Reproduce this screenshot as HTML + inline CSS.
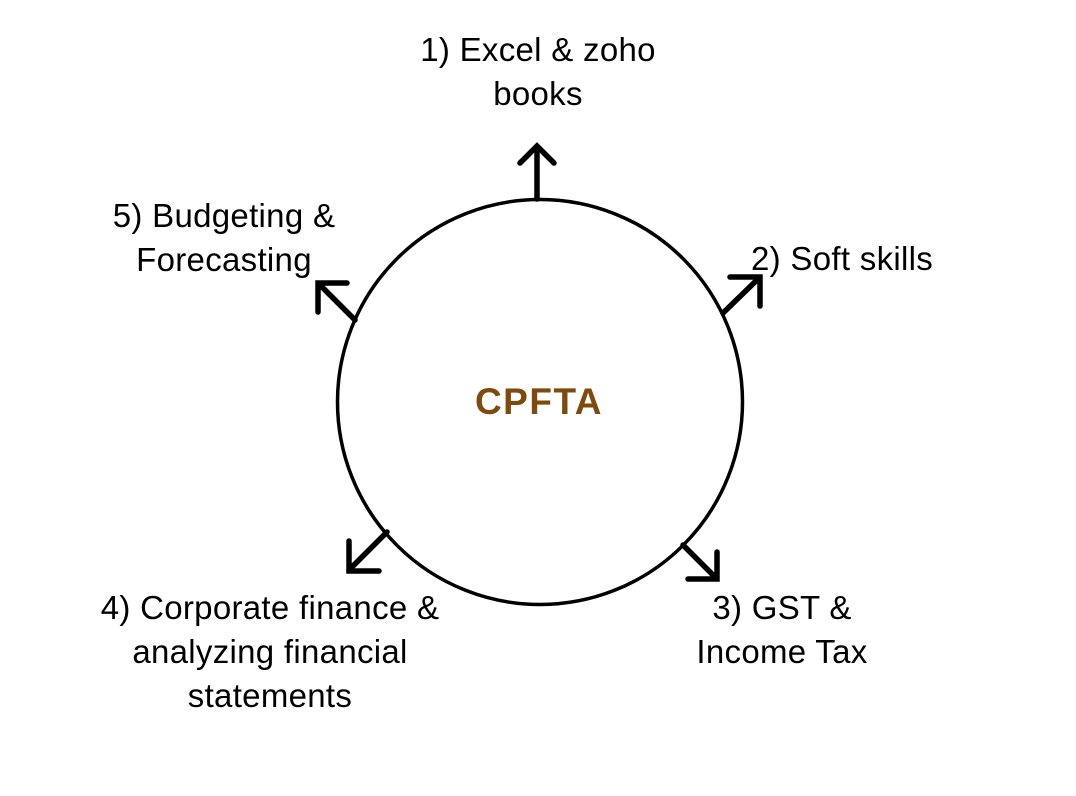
<!DOCTYPE html>
<html><head><style>
html,body{margin:0;padding:0;background:#fff;}
body{width:1076px;height:796px;position:relative;overflow:hidden;font-family:"Liberation Sans",Arial,sans-serif;}
.t{position:absolute;font-size:33px;line-height:44px;color:#000;text-align:center;white-space:nowrap;letter-spacing:0.3px;}
</style></head><body>
<svg width="1076" height="796" style="position:absolute;left:0;top:0">
<circle cx="540" cy="402" r="202.5" fill="#fff" stroke="#000" stroke-width="3.5"/>
<g stroke="#000" stroke-width="5.5" fill="none" stroke-linecap="round" stroke-linejoin="miter">
<line x1="537" y1="199" x2="537" y2="148"/><polyline points="520,163 537,146 554,163"/>
<line x1="723" y1="313" x2="759" y2="278"/><polyline points="730,277 760,277 760,306"/>
<line x1="355" y1="320" x2="319" y2="284"/><polyline points="347,283 318,283 318,312"/>
<line x1="387" y1="532" x2="349" y2="570"/><polyline points="349,541 349,571 379,571"/>
<line x1="683" y1="545" x2="716" y2="578"/><polyline points="717,552 717,579 688,579"/>
</g>
<text x="539" y="414" text-anchor="middle" font-family="Liberation Sans,Arial,sans-serif" font-weight="bold" font-size="37" letter-spacing="1.5" fill="#7f4a0e">CPFTA</text>
</svg>
<div class="t" style="left:338px;top:28px;width:400px">1) Excel &amp; zoho<br>books</div>
<div class="t" style="left:24px;top:194px;width:400px">5) Budgeting &amp;<br>Forecasting</div>
<div class="t" style="left:751px;top:237px;text-align:left">2) Soft skills</div>
<div class="t" style="left:70px;top:586px;width:400px">4) Corporate finance &amp;<br>analyzing financial<br>statements</div>
<div class="t" style="left:582px;top:586px;width:400px">3) GST &amp;<br>Income Tax</div>
</body></html>
